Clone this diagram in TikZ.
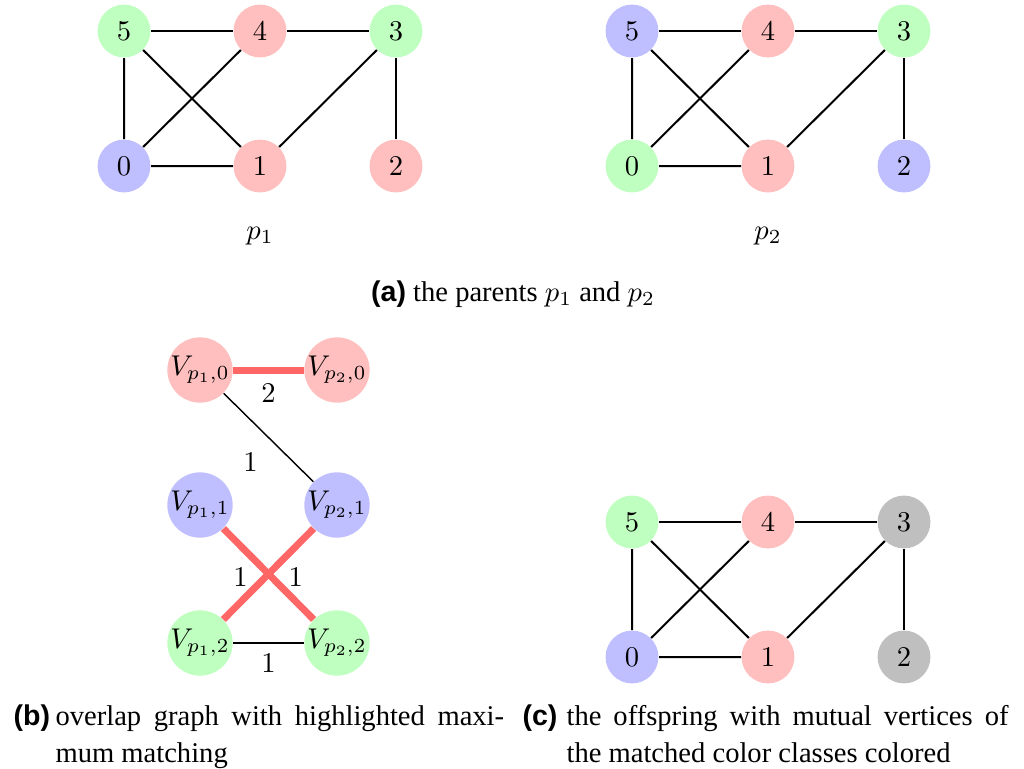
\documentclass[tikz,border=0pt]{standalone}
\usepackage[no-math]{fontspec}
\usepackage{amsmath}
\setmainfont{Liberation Serif}
\newfontfamily\capsans{Liberation Sans}
\usetikzlibrary{positioning}
\definecolor{vgreen}{RGB}{191,255,191}
\definecolor{vred}{RGB}{255,191,191}
\definecolor{vblue}{RGB}{191,191,255}
\definecolor{vgray}{RGB}{191,191,191}
\definecolor{matchred}{RGB}{255,102,102}
\newcommand{\sixnodes}[6]{\node[vtx, fill=#1] (v0) at (0,0) {$0$};
					\node[vtx, fill=#2] (v1) at (136,0) {$1$};
					\node[vtx, fill=#3] (v2) at (272,0) {$2$};
					\node[vtx, fill=#4] (v3) at (272,-135) {$3$};
					\node[vtx, fill=#5] (v4) at (136,-135) {$4$};
					\node[vtx, fill=#6] (v5) at (0,-135) {$5$};}
\newcommand{\sixedges}{\draw[edge] (v5) -- (v4) -- (v3) -- (v2);
					\draw[edge] (v5) -- (v0) -- (v1) -- (v3);
					\draw[edge] (v5) -- (v1);
					\draw[edge] (v4) -- (v0);}
\newcommand{\sublabel}[1]{{\capsans\bfseries #1}}

\begin{document}
\begin{tikzpicture}[x=0.35pt, y=-0.35pt,
					vtx/.style={circle, draw=none, minimum size=18.5pt, inner sep=0pt},
					bigvtx/.style={circle, draw=none, minimum size=22.75pt, inner sep=0pt},
					edge/.style={line width=0.7pt},
					thinedge/.style={line width=0.5pt},
					matched/.style={line width=2.45pt, draw=matchred},
					elabel/.style={inner sep=0pt},
					capt/.style={inner sep=0pt, font=\fontsize{10}{12.95}\selectfont}]

					\useasboundingbox (0,0) rectangle (1024,769);

					% (a) parent p1
					\begin{scope}[shift={(124,166)}, name prefix=pa-]
						\sixnodes{vblue}{vred}{vred}{vgreen}{vred}{vgreen}
						\sixedges
					\end{scope}

					% (a) parent p2
					\begin{scope}[shift={(632,166)}, name prefix=pb-]
						\sixnodes{vgreen}{vred}{vblue}{vgreen}{vred}{vblue}
						\sixedges
					\end{scope}

					\node[capt, anchor=base] (plabA) at (260,239) {$p_1$};
					\node[capt, anchor=base] (plabB) at (768,239) {$p_2$};
					\node[capt, anchor=base] (captA) at (513,301) {\sublabel{(a)} the parents $p_1$ and $p_2$};

					% (b) overlap graph
					\node[bigvtx, fill=vred] (w10) at (200,370) {$V_{p_1,0}$};
					\node[bigvtx, fill=vred] (w20) at (337,370) {$V_{p_2,0}$};
					\node[bigvtx, fill=vblue] (w11) at (200,505) {$V_{p_1,1}$};
					\node[bigvtx, fill=vblue] (w21) at (337,505) {$V_{p_2,1}$};
					\node[bigvtx, fill=vgreen] (w12) at (200,643) {$V_{p_1,2}$};
					\node[bigvtx, fill=vgreen] (w22) at (337,643) {$V_{p_2,2}$};

					\draw[matched] (w10) -- node[elabel, midway, yshift=-8pt] {$2$} (w20);
					\draw[thinedge] (w10) -- node[elabel, midway, xshift=-6.3pt, yshift=-8.75pt] {$1$} (w21);
					\draw[matched] (w11) -- node[elabel, midway, xshift=-9.8pt, yshift=-1pt] {$1$} (w22);
					\draw[matched] (w21) -- node[elabel, midway, xshift=9.5pt, yshift=-1pt] {$1$} (w12);
					\draw[thinedge] (w12) -- node[elabel, midway, yshift=-7pt] {$1$} (w22);

					\node[capt, anchor=base west] (labB) at (13,725) {\sublabel{(b)}};
					\node[capt, anchor=base west, text width=157pt, align=justify] (captB) at (55,725)
						{overlap graph with highlighted maxi-\linebreak mum matching};

					% (c) offspring
					\begin{scope}[shift={(632,657)}, name prefix=pc-]
						\sixnodes{vblue}{vred}{vgray}{vgray}{vred}{vgreen}
						\sixedges
					\end{scope}

					\node[capt, anchor=base west] (labC) at (522,725) {\sublabel{(c)}};
					\node[capt, anchor=base west, text width=154.7pt, align=justify] (captC) at (566,725)
						{the offspring with mutual vertices of\linebreak the matched color classes colored};

\end{tikzpicture}
\end{document}
